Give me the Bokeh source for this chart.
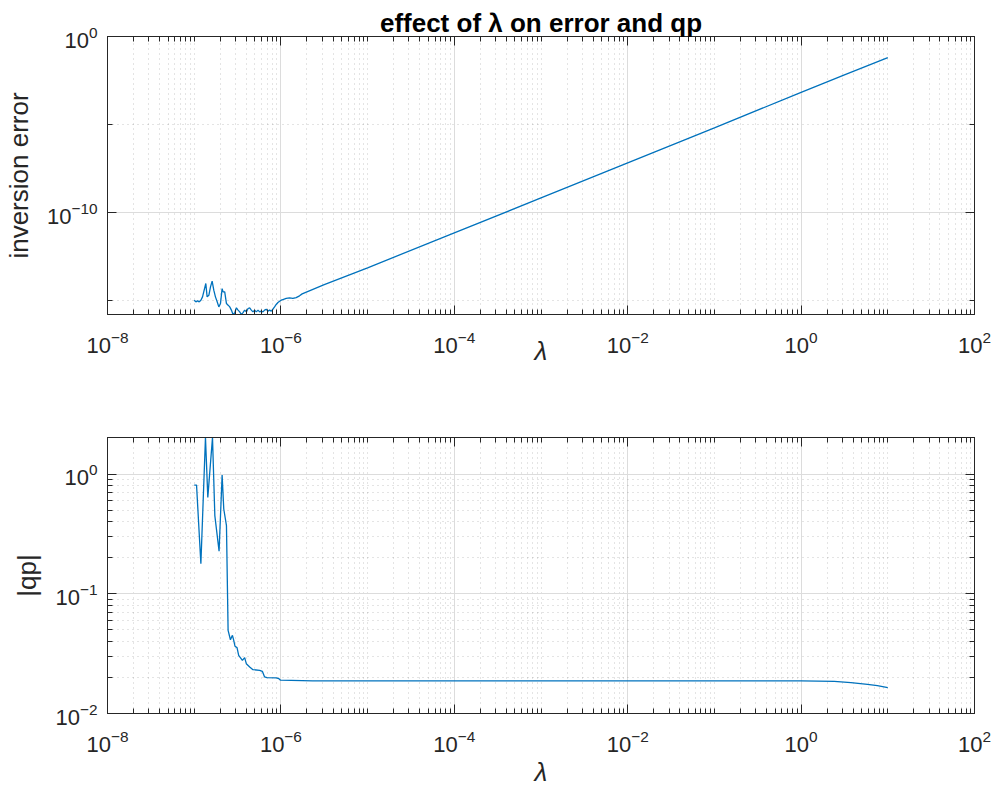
import numpy as np
from bokeh.plotting import figure
from bokeh.models import FixedTicker, LogAxis, Range1d
from bokeh.layouts import column
from bokeh.embed import file_html
from bokeh.resources import INLINE

# ---------------- data (as log10 values) ----------------
# top panel: inversion error vs lambda
lam_err_exp = [-7.000, -6.981, -6.962, -6.942, -6.923, -6.904, -6.885, -6.866, -6.851, -6.831,
               -6.812, -6.793, -6.774, -6.755, -6.735, -6.716, -6.697, -6.678, -6.667, -6.648,
               -6.628, -6.609, -6.590, -6.571, -6.552, -6.533, -6.513, -6.494, -6.475, -6.456,
               -6.437, -6.418, -6.398, -6.379, -6.360, -6.341, -6.322, -6.303, -6.284, -6.264,
               -6.245, -6.226, -6.207, -6.188, -6.169, -6.149, -6.130, -6.111, -6.092, -6.073,
               -6.054, -6.034, -6.015, -5.996, -5.977, -5.939, -5.900, -5.862, -5.824, -5.785,
               -5.755, -5.5, -5.0, -4.0, -3.0, -2.0, -1.0, 0.0, 0.5, 1.0]
err_exp = [-14.96, -15.05, -15.00, -15.05, -14.96, -14.77, -14.39, -14.01, -14.77, -14.68,
           -14.20, -13.88, -14.39, -14.77, -15.05, -15.34, -15.15, -14.30, -14.49, -14.49,
           -15.15, -15.24, -15.34, -15.52, -15.77, -15.68, -15.39, -15.52, -15.62, -15.77,
           -15.66, -15.52, -15.62, -15.43, -15.39, -15.52, -15.62, -15.52, -15.62, -15.52,
           -15.62, -15.58, -15.62, -15.52, -15.47, -15.58, -15.52, -15.58, -15.47, -15.34,
           -15.20, -15.09, -15.02, -14.96, -14.92, -14.86, -14.83, -14.86, -14.81, -14.71,
           -14.60, -14.08, -13.12, -11.14, -9.16, -7.17, -5.18, -3.17, -2.18, -1.20]

# bottom panel: |qp| vs lambda
lam_qp_exp = [-7.000, -6.973, -6.923, -6.870, -6.843, -6.789, -6.762, -6.713, -6.678, -6.659,
              -6.628, -6.609, -6.582, -6.559, -6.544, -6.529, -6.506, -6.487, -6.444, -6.418,
              -6.399, -6.360, -6.322, -6.245, -6.214, -6.188, -6.161, -6.054, -6.023, -6.004,
              -5.632, -5.0, -4.0, -3.0, -2.0, -1.0, 0.0, 0.383, 0.575, 0.766, 0.88, 1.0]
qp_exp = [-0.092, -0.092, -0.750, 0.305, -0.195, 0.305, -0.347, -0.645, -0.009, -0.292,
          -0.431, -1.306, -1.384, -1.347, -1.389, -1.439, -1.450, -1.514, -1.556, -1.534,
          -1.584, -1.611, -1.634, -1.639, -1.648, -1.695, -1.700, -1.703, -1.709, -1.722,
          -1.728, -1.728, -1.728, -1.728, -1.728, -1.728, -1.728, -1.731, -1.742, -1.756,
          -1.767, -1.783]

title_text = "effect of \u03bb on error and qp"
xlabel = "\u03bb"
ylabel_top = "inversion error"
ylabel_bot = "|qp|"

x_limits = (1e-8, 1e2)
y_top_limits = (10 ** -15.77, 1.0)
y_bot_limits = (1e-2, 10 ** 0.305)

x_major = [1e-8, 1e-6, 1e-4, 1e-2, 1e0, 1e2]
x_minor = [m * 10.0 ** k for k in range(-8, 2) for m in range(1, 10) if not (m == 1 and k % 2 == 0)]
ytop_major = [1e-10, 1e0]
ytop_minor = [1e-15, 1e-5]
ybot_major = [1e-2, 1e-1, 1e0]
ybot_minor = [m * 10.0 ** k for k in (-2, -1, 0) for m in range(2, 10)]

# ---------------- style ----------------
FONT = "Liberation Sans"
AX = "#262626"
BLUE = "#0072BD"
TICK_FS = "22px"
LABEL_FS = "26px"


def style_axis(ax, major, minor, show_labels):
    ax.ticker = FixedTicker(ticks=major, minor_ticks=minor)
    ax.axis_line_color = AX
    ax.axis_line_width = 1
    ax.major_tick_line_color = AX
    ax.minor_tick_line_color = AX
    ax.major_tick_in = 9
    ax.major_tick_out = 0
    ax.minor_tick_in = 5
    ax.minor_tick_out = 0
    if show_labels:
        ax.major_label_text_font = FONT
        ax.major_label_text_font_size = TICK_FS
        ax.major_label_text_color = AX
        ax.axis_label_text_font = FONT
        ax.axis_label_text_font_size = LABEL_FS
        ax.axis_label_text_color = AX
        ax.axis_label_text_font_style = "normal"
    else:
        ax.major_label_text_font_size = "1px"
        ax.major_label_text_alpha = 0.0
        ax.major_label_standoff = 0


def make_panel(lam, val, ylims, ymaj, ymin, ylabel, height, top_border, bot_border,
               xlabel_standoff, title=None):
    p = figure(width=991, height=height, x_axis_type="log", y_axis_type="log",
               x_range=Range1d(*x_limits), y_range=Range1d(*ylims),
               output_backend="svg", toolbar_location=None,
               min_border_left=104, min_border_right=17,
               min_border_top=top_border, min_border_bottom=bot_border)
    p.background_fill_color = "white"
    p.border_fill_color = "white"
    p.outline_line_color = AX
    p.outline_line_alpha = 1.0

    style_axis(p.xaxis[0], x_major, x_minor, True)
    style_axis(p.yaxis[0], ymaj, ymin, True)
    p.xaxis.axis_label = xlabel
    p.xaxis.axis_label_text_font_style = "italic"
    p.xaxis.major_label_standoff = 16
    p.xaxis.axis_label_standoff = xlabel_standoff
    p.yaxis.axis_label = ylabel
    p.yaxis.major_label_standoff = 10
    p.yaxis.axis_label_standoff = 10

    top_ax = LogAxis()
    style_axis(top_ax, x_major, x_minor, False)
    p.add_layout(top_ax, "above")
    right_ax = LogAxis()
    style_axis(right_ax, ymaj, ymin, False)
    p.add_layout(right_ax, "right")

    for g in (p.xgrid[0], p.ygrid[0]):
        g.grid_line_color = "#dcdcdc"
        g.grid_line_width = 1
        g.minor_grid_line_color = AX
        g.minor_grid_line_alpha = 0.25
        g.minor_grid_line_dash = "1 4"
        g.minor_grid_line_width = 1

    if title:
        p.title.text = title
        p.title.align = "center"
        p.title.text_font = FONT
        p.title.text_font_size = "26px"
        p.title.text_font_style = "bold"
        p.title.text_color = "#000000"
        p.title.standoff = -3

    p.line(10 ** np.array(lam), 10 ** np.array(val), line_color=BLUE, line_width=1.3)
    return p


p1 = make_panel(lam_err_exp, err_exp, y_top_limits, ytop_major, ytop_minor, ylabel_top,
                height=375, top_border=36, bot_border=61, xlabel_standoff=-20, title=title_text)
p2 = make_panel(lam_qp_exp, qp_exp, y_bot_limits, ybot_major, ybot_minor, ylabel_bot,
                height=415, top_border=62, bot_border=77, xlabel_standoff=2)

layout = column(p1, p2, spacing=0)
open("out.html", "w").write(file_html(layout, INLINE))
